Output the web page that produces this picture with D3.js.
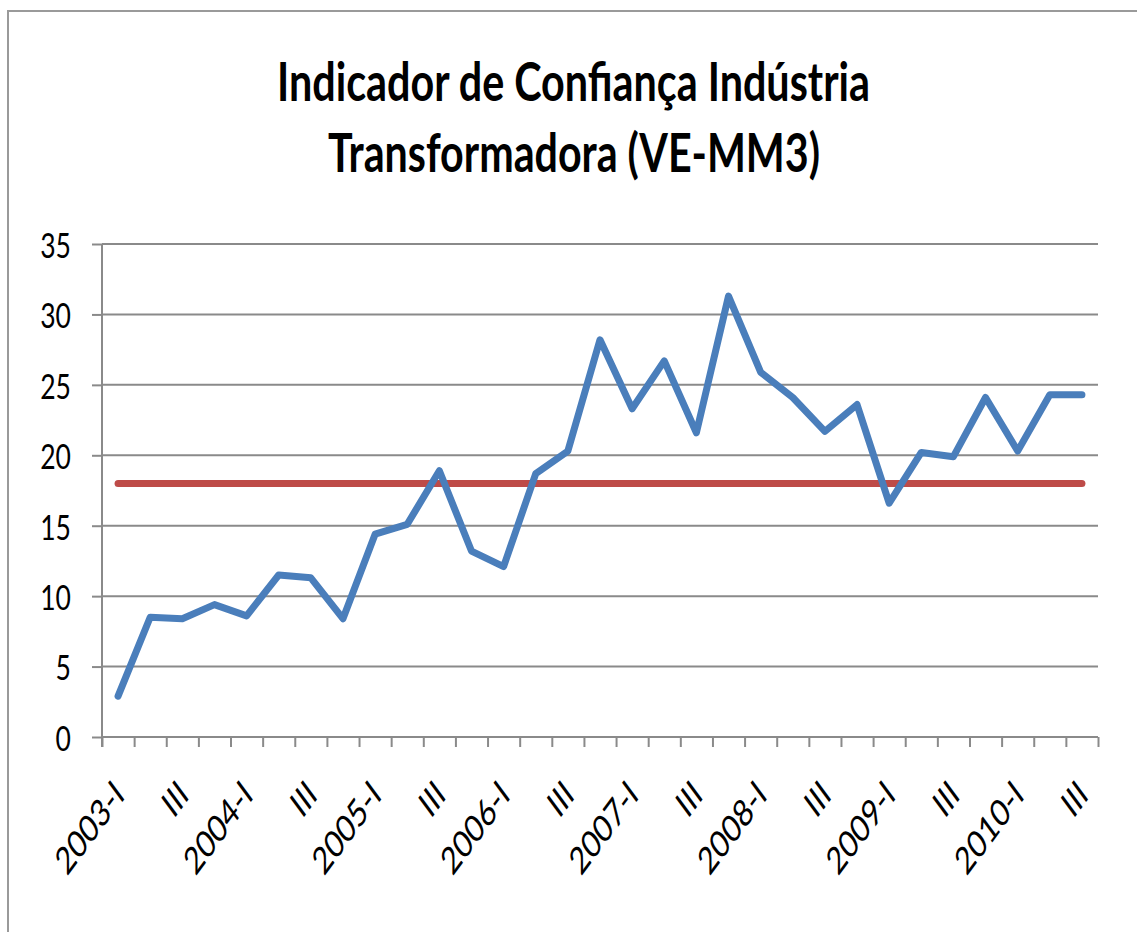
<!DOCTYPE html>
<html>
<head>
<meta charset="utf-8">
<script src="https://cdn.jsdelivr.net/npm/d3@7"></script>
<style>
  html, body { margin: 0; padding: 0; background: #fff; }
  svg { display: block; }
</style>
</head>
<body>
<div id="chart"></div>
<script>
"use strict";

// data
let categories = [
  "2003-I", "2003-II", "2003-III", "2003-IV",
  "2004-I", "2004-II", "2004-III", "2004-IV",
  "2005-I", "2005-II", "2005-III", "2005-IV",
  "2006-I", "2006-II", "2006-III", "2006-IV",
  "2007-I", "2007-II", "2007-III", "2007-IV",
  "2008-I", "2008-II", "2008-III", "2008-IV",
  "2009-I", "2009-II", "2009-III", "2009-IV",
  "2010-I", "2010-II", "2010-III"
];
let confidenceValues = [
  2.9, 8.5, 8.4, 9.4, 8.6, 11.5, 11.3, 8.4,
  14.4, 15.1, 18.9, 13.2, 12.1, 18.7, 20.3, 28.2,
  23.3, 26.7, 21.6, 31.3, 25.9, 24.1, 21.7, 23.6,
  16.6, 20.2, 19.9, 24.1, 20.3, 24.3, 24.3
];
let meanValue = 18.0;
let yTicks = [0, 5, 10, 15, 20, 25, 30, 35];
let xTickLabels = [
  "2003-I", "III", "2004-I", "III", "2005-I", "III", "2006-I", "III",
  "2007-I", "III", "2008-I", "III", "2009-I", "III", "2010-I", "III"
];
let titleLines = ["Indicador de Confiança Indústria", "Transformadora (VE-MM3)"];

let width = 1137;
let height = 932;
let margin = { top: 244, bottom: 195, left: 102, right: 39 };
let gridColor = "#8a8a8a";

let svg = d3.select("#chart")
  .append("svg")
  .attr("width", width)
  .attr("height", height)
  .attr("viewBox", [0, 0, width, height].join(" "));

// outer chart border
svg.append("path")
  .attr("d", "M8,932 V11 H1137")
  .attr("fill", "none")
  .attr("stroke", "#9a9a9a")
  .attr("stroke-width", 2);

// title
let titleG = svg.append("g")
  .attr("font-family", "Lato, 'Open Sans', sans-serif")
  .attr("font-weight", "bold")
  .attr("font-size", 53)
  .attr("fill", "#000");

titleG.append("text")
  .attr("x", 277).attr("y", 101)
  .attr("textLength", 593)
  .attr("lengthAdjust", "spacingAndGlyphs")
  .text(titleLines[0]);

titleG.append("text")
  .attr("x", 328).attr("y", 172)
  .attr("textLength", 492)
  .attr("lengthAdjust", "spacingAndGlyphs")
  .text(titleLines[1]);

let x0 = margin.left;
let x1 = width - margin.right;
let yBottom = height - margin.bottom;

let xBand = d3.scaleBand()
  .domain(categories)
  .range([x0, x1])
  .padding(0);
let xCenter = c => xBand(c) + xBand.bandwidth() / 2;
let xEdge = d3.scaleLinear()
  .domain([0, categories.length])
  .range([x0, x1]);

let yScale = d3.scaleLinear()
  .domain([0, 35])
  .range([yBottom, margin.top]);

// gridlines + y axis ticks
let yAxis = d3.axisLeft(yScale)
  .tickValues(yTicks)
  .tickSize(10)
  .tickFormat("");

let yAxisG = svg.append("g")
  .attr("transform", "translate(" + x0 + ", 0)")
  .call(yAxis);
yAxisG.select(".domain").remove();
yAxisG.selectAll(".tick line")
  .attr("stroke", gridColor)
  .attr("stroke-width", 2);

svg.append("g")
  .selectAll("line")
  .data(yTicks)
  .enter().append("line")
  .attr("x1", x0).attr("x2", x1)
  .attr("y1", d => yScale(d)).attr("y2", d => yScale(d))
  .attr("stroke", gridColor)
  .attr("stroke-width", 2);

// y axis line
svg.append("line")
  .attr("x1", x0).attr("x2", x0)
  .attr("y1", yScale(35)).attr("y2", yBottom + 10)
  .attr("stroke", gridColor)
  .attr("stroke-width", 2);

// y labels
svg.append("g")
  .selectAll("text")
  .data(yTicks)
  .enter().append("text")
  .attr("transform", d => "translate(71, " + (yScale(d) + 2) + ") scale(0.78, 1)")
  .attr("text-anchor", "end")
  .attr("dy", "0.35em")
  .attr("font-family", "Lato, sans-serif")
  .attr("font-size", 34)
  .attr("fill", "#000")
  .text(d => d);

// x axis tick marks between categories
let xAxis = d3.axisBottom(xEdge)
  .tickValues(d3.range(categories.length + 1))
  .tickSize(10)
  .tickFormat("");

let xAxisG = svg.append("g")
  .attr("transform", "translate(0, " + yBottom + ")")
  .call(xAxis);
xAxisG.select(".domain").remove();
xAxisG.selectAll(".tick line")
  .attr("stroke", gridColor)
  .attr("stroke-width", 2);

// x labels, every second category
let labelCats = categories.filter((c, i) => i % 2 === 0);
svg.append("g")
  .selectAll("text")
  .data(labelCats)
  .enter().append("text")
  .attr("transform", d => "translate(" + (xCenter(d) + 8) + ", " + (yBottom + 60) + ") scale(0.74, 1) rotate(-45)")
  .attr("text-anchor", "end")
  .attr("font-family", "Lato, sans-serif")
  .attr("font-size", 38)
  .attr("fill", "#000")
  .text((d, i) => xTickLabels[i]);

// mean line
svg.append("line")
  .attr("x1", xCenter(categories[0]))
  .attr("x2", xCenter(categories[categories.length - 1]))
  .attr("y1", yScale(meanValue))
  .attr("y2", yScale(meanValue))
  .attr("stroke", "#be4b48")
  .attr("stroke-width", 7)
  .attr("stroke-linecap", "round");

// confidence series
let line = d3.line()
  .x((d, i) => xCenter(categories[i]))
  .y(d => yScale(d));

svg.append("path")
  .datum(confidenceValues)
  .attr("d", line)
  .attr("fill", "none")
  .attr("stroke", "#4a7ebb")
  .attr("stroke-width", 7)
  .attr("stroke-linejoin", "round")
  .attr("stroke-linecap", "round");
</script>
</body>
</html>
